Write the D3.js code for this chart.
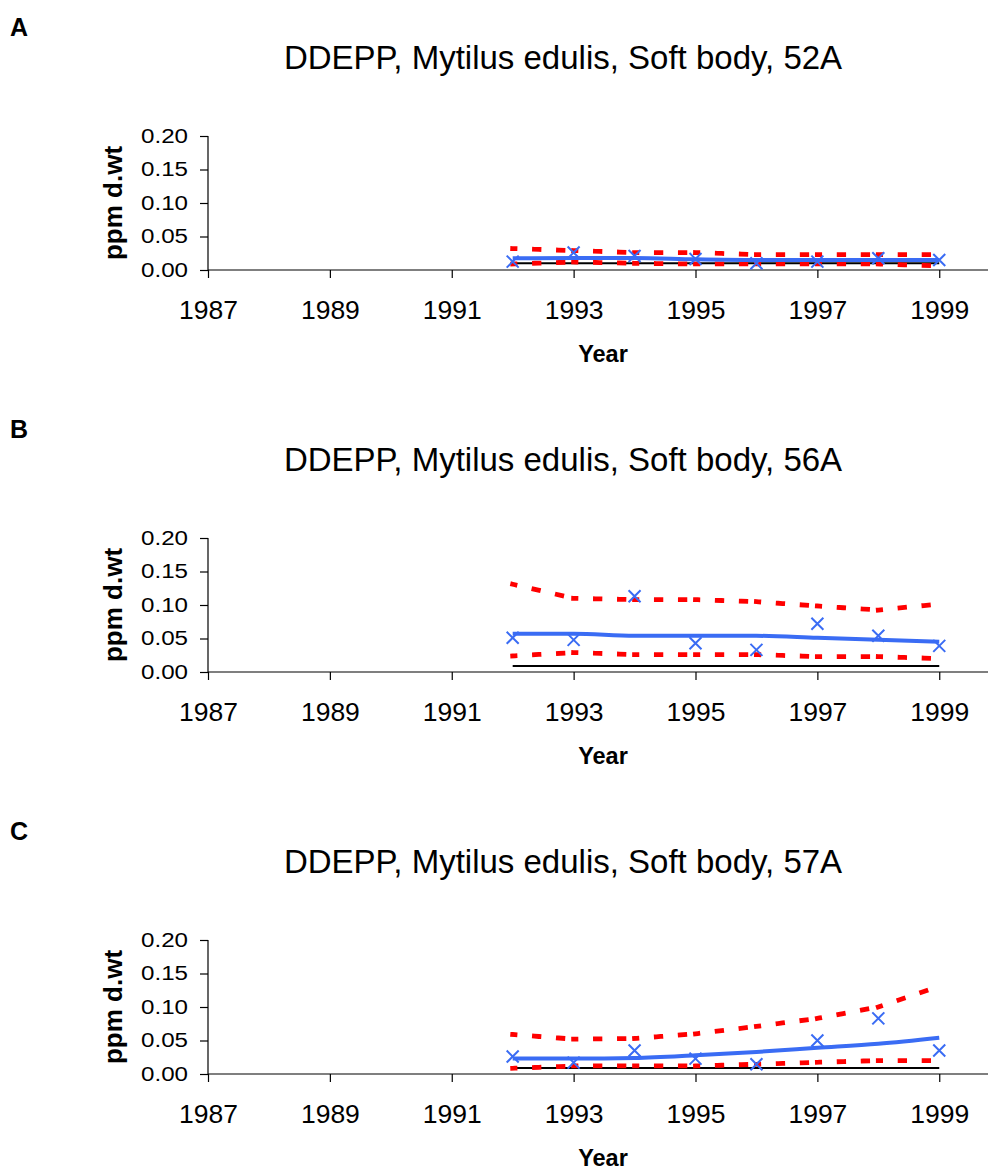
<!DOCTYPE html>
<html>
<head>
<meta charset="utf-8">
<script src="https://cdn.jsdelivr.net/npm/d3@7"></script>
<style>
  body { margin: 0; background: #fff; }
  text { font-family: "Liberation Sans", Arial, sans-serif; fill: #000; }
</style>
</head>
<body>
<div id="chart"></div>
<script>
// years with samples
var years = [1992, 1993, 1994, 1995, 1996, 1997, 1998, 1999];
var xTicks = [1987, 1989, 1991, 1993, 1995, 1997, 1999];
var yTicks = [0, 0.05, 0.10, 0.15, 0.20];

// station 52A
var obsA = [0.0125, 0.026, 0.021, 0.0165, 0.010, 0.0125, 0.0175, 0.015];
var fitA = [0.0175, 0.018, 0.018, 0.016, 0.015, 0.015, 0.015, 0.015];
var upA  = [0.032, 0.029, 0.026, 0.026, 0.023, 0.023, 0.023, 0.023];
var loA  = [0.009, 0.012, 0.010, 0.009, 0.009, 0.009, 0.009, 0.006];
var refA = 0.010;

// station 56A
var obsB = [0.051, 0.048, 0.113, 0.043, 0.033, 0.072, 0.054, 0.039];
var fitB = [0.057, 0.057, 0.054, 0.054, 0.054, 0.051, 0.048, 0.045];
var upB  = [0.131, 0.110, 0.108, 0.108, 0.105, 0.0985, 0.0925, 0.1015];
var loB  = [0.024, 0.029, 0.026, 0.026, 0.026, 0.023, 0.023, 0.020];
var refB = 0.009;

// station 57A
var obsC = [0.026, 0.017, 0.035, 0.023, 0.0145, 0.050, 0.083, 0.035];
var fitC = [0.023, 0.023, 0.024, 0.028, 0.033, 0.039, 0.045, 0.054];
var upC  = [0.059, 0.052, 0.053, 0.060, 0.071, 0.083, 0.100, 0.131];
var loC  = [0.0085, 0.012, 0.012, 0.012, 0.0145, 0.0175, 0.020, 0.020];
var refC = 0.009;

var panels = [
    ['A', 'DDEPP, Mytilus edulis, Soft body, 52A', obsA, fitA, upA, loA, refA],
    ['B', 'DDEPP, Mytilus edulis, Soft body, 56A', obsB, fitB, upB, loB, refB],
    ['C', 'DDEPP, Mytilus edulis, Soft body, 57A', obsC, fitC, upC, loC, refC]
];

var svg = d3.select('#chart').append('svg')
    .attr('width', 989)
    .attr('height', 1170);

var blue = '#3a6cf4';
var red = '#ff0000';

// same scales for every panel, shifted down per panel
var x = d3.scaleLinear().domain([1987, 1999.8]).range([208, 988]);
var y = d3.scaleLinear().domain([0, 0.20]).range([270, 136]);

function buildPanel(p, i) {
    var g = svg.append('g').attr('transform', 'translate(0,' + (i * 402) + ')');

    g.append('text')
        .attr('x', 10).attr('y', 36)
        .style('font-size', '25px').style('font-weight', 'bold')
        .text(p[0]);

    g.append('text')
        .attr('x', 563).attr('y', 69)
        .attr('text-anchor', 'middle')
        .style('font-size', '33px')
        .text(p[1]);

    // axes
    var yAxis = g.append('g')
        .attr('transform', 'translate(208,0)')
        .call(d3.axisLeft(y).tickValues(yTicks).tickFormat(d3.format('.2f')).tickSize(8).tickPadding(12));
    yAxis.selectAll('text')
        .style('font-size', '20px')
        .attr('textLength', 47).attr('lengthAdjust', 'spacingAndGlyphs');

    var xAxis = g.append('g')
        .attr('transform', 'translate(0,270)')
        .call(d3.axisBottom(x).tickValues(xTicks).tickFormat(d3.format('d')).tickSize(8).tickPadding(22));
    xAxis.selectAll('text').style('font-size', '26.5px');

    [yAxis, xAxis].forEach(function(a) {
        a.select('.domain').attr('stroke', '#000').attr('stroke-width', 1.2);
        a.selectAll('.tick line').attr('stroke', '#000').attr('stroke-width', 1.2);
        a.attr('font-family', null).attr('font-size', null);
    });
    // y domain path has outer ticks; redraw plain
    yAxis.select('.domain').attr('d', 'M0,' + y(0.20) + 'V' + y(0));
    xAxis.select('.domain').attr('d', 'M' + x(1987) + ',0H' + x(1999.8));

    g.append('text')
        .attr('transform', 'translate(122,' + ((y(0) + y(0.2)) / 2) + ') rotate(-90)')
        .attr('text-anchor', 'middle')
        .style('font-size', '26px').style('font-weight', 'bold')
        .text('ppm d.wt');

    g.append('text')
        .attr('x', 603).attr('y', 362)
        .attr('text-anchor', 'middle')
        .style('font-size', '23.5px').style('font-weight', 'bold')
        .text('Year');

    // reference level
    g.append('line')
        .attr('x1', x(years[0])).attr('x2', x(years[years.length - 1]))
        .attr('y1', y(p[6])).attr('y2', y(p[6]))
        .attr('stroke', '#000').attr('stroke-width', 2);

    // confidence band, each year segment dashed on its own
    var seg = d3.line().x(function(d) { return x(d[0]); }).y(function(d) { return y(d[1]); });
    [p[4], p[5]].forEach(function(vals) {
        var pts = years.map(function(yr, k) { return [yr, vals[k]]; });
        g.selectAll(null)
            .data(d3.pairs(pts))
            .enter()
            .append('path')
                .attr('d', seg)
                .attr('fill', 'none')
                .attr('stroke', red)
                .attr('stroke-width', 4.8)
                .attr('stroke-linecap', 'square')
                .attr('stroke-dasharray', '4.5,19.5')
                .attr('stroke-dashoffset', 2.2);
    });

    // trend
    g.append('path')
        .datum(years.map(function(yr, k) { return [yr, p[3][k]]; }))
        .attr('d', seg.curve(d3.curveMonotoneX))
        .attr('fill', 'none')
        .attr('stroke', blue)
        .attr('stroke-width', 4);
    seg.curve(d3.curveLinear);

    // observations as crosses
    g.selectAll(null)
        .data(years.map(function(yr, k) { return [yr, p[2][k]]; }))
        .enter()
        .append('path')
            .attr('d', function(d) {
                var cx = x(d[0]), cy = y(d[1]), s = 6;
                return 'M' + (cx - s) + ',' + (cy - s) + 'L' + (cx + s) + ',' + (cy + s) +
                       'M' + (cx - s) + ',' + (cy + s) + 'L' + (cx + s) + ',' + (cy - s);
            })
            .attr('stroke', blue)
            .attr('stroke-width', 2)
            .attr('fill', 'none');
}

panels.forEach(buildPanel);
</script>
</body>
</html>
